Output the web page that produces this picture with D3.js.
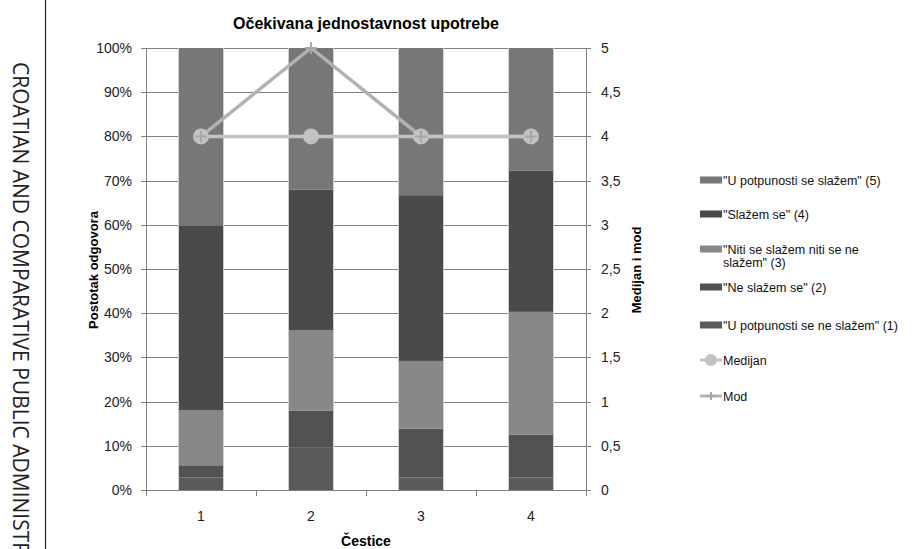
<!DOCTYPE html>
<html>
<head>
<meta charset="utf-8">
<script src="https://cdn.jsdelivr.net/npm/d3@7"></script>
<style>
  body { margin: 0; background: #fff; }
  svg text { font-family: "Liberation Sans Narrow", "Arial Narrow", "Liberation Sans", sans-serif; }
</style>
</head>
<body>
<svg id="chart" width="920" height="549"></svg>
<script>
// Data (percent of answers per item)
const categories = ["1", "2", "3", "4"];
const seriesNames = [
  "\"U potpunosti se ne slažem\" (1)",
  "\"Ne slažem se\" (2)",
  "\"Niti se slažem niti se ne slažem\" (3)",
  "\"Slažem se\" (4)",
  "\"U potpunosti se slažem\" (5)"
];
const answer1 = [2.8, 9.7, 2.8, 2.8];
const answer2 = [2.8, 8.3, 11.1, 9.7];
const answer3 = [12.5, 18.1, 15.3, 27.8];
const answer4 = [41.7, 31.9, 37.5, 31.9];
const answer5 = [40.2, 32.0, 33.3, 27.8];
const medianValues = [4, 4, 4, 4];
const modeValues = [4, 5, 4, 4];
const leftTicks = [0, 10, 20, 30, 40, 50, 60, 70, 80, 90, 100];
const rightTicks = [0, 0.5, 1, 1.5, 2, 2.5, 3, 3.5, 4, 4.5, 5];

const seriesColors = ["#5a5a5a", "#525252", "#888888", "#4a4a4a", "#777777"];
const medianColor = "#c2c2c2";
const modeColor = "#b2b2b2";

const svg = d3.select("#chart");

// Plot area
const plotLeft = 146;
const plotRight = 586;
const plotTop = 48;
const plotBottom = 490;

const xScale = d3.scaleBand()
  .domain(categories)
  .range([plotLeft, plotRight])
  .paddingInner(0.6)
  .paddingOuter(0.3);

const yScale = d3.scaleLinear().domain([0, 100]).range([plotBottom, plotTop]);
const y2Scale = d3.scaleLinear().domain([0, 5]).range([plotBottom, plotTop]);

// Journal side text
svg.append("line")
  .attr("x1", 45.5).attr("x2", 45.5)
  .attr("y1", 0).attr("y2", 549)
  .style("stroke", "#222").style("stroke-width", 1.2);

svg.append("text")
  .attr("transform", "translate(13,62) rotate(90)")
  .style("font-family", "'Open Sans', sans-serif")
  .style("font-size", "21px")
  .style("fill", "#222")
  .text("CROATIAN AND COMPARATIVE PUBLIC ADMINISTRATION");

// Gridlines
svg.append("g")
  .selectAll("line")
  .data(leftTicks)
  .join("line")
  .attr("x1", plotLeft - 5).attr("x2", plotRight + 5)
  .attr("y1", (d) => Math.round(yScale(d)) + 0.5)
  .attr("y2", (d) => Math.round(yScale(d)) + 0.5)
  .style("stroke", "#808080").style("stroke-width", 1);

// Axes lines
svg.append("line")
  .attr("x1", plotLeft + 0.5).attr("x2", plotLeft + 0.5)
  .attr("y1", plotTop).attr("y2", plotBottom)
  .style("stroke", "#808080");
svg.append("line")
  .attr("x1", plotRight + 0.5).attr("x2", plotRight + 0.5)
  .attr("y1", plotTop).attr("y2", plotBottom)
  .style("stroke", "#808080");

// X tick marks between categories
const xBoundaries = categories.map((c) => xScale(c) - xScale.step() * 0.3).concat([plotRight]);
svg.append("g")
  .selectAll("line")
  .data(xBoundaries)
  .join("line")
  .attr("x1", (d) => Math.round(d) + 0.5).attr("x2", (d) => Math.round(d) + 0.5)
  .attr("y1", plotBottom).attr("y2", plotBottom + 6)
  .style("stroke", "#808080");

// Stacked bars
const table = categories.map((c, i) => ({
  cat: c,
  a1: answer1[i], a2: answer2[i], a3: answer3[i], a4: answer4[i], a5: answer5[i]
}));
const stack = d3.stack().keys(["a1", "a2", "a3", "a4", "a5"]);
const stacked = stack(table);

svg.append("g")
  .selectAll("g")
  .data(stacked)
  .join("g")
  .style("fill", (d, i) => seriesColors[i])
  .selectAll("rect")
  .data((d) => d)
  .join("rect")
  .attr("x", (d) => xScale(d.data.cat))
  .attr("width", xScale.bandwidth())
  .attr("y", (d) => yScale(d[1]))
  .attr("height", (d) => yScale(d[0]) - yScale(d[1]));

// bar side edges
svg.append("g")
  .selectAll("rect")
  .data(categories)
  .join("rect")
  .attr("x", (d) => xScale(d) - 0.5)
  .attr("width", xScale.bandwidth() + 1)
  .attr("y", plotTop)
  .attr("height", plotBottom - plotTop)
  .style("fill", "none")
  .style("stroke", "#cfcfcf")
  .style("stroke-width", 1)
  .style("stroke-dasharray", `0 ${xScale.bandwidth() + 1} ${plotBottom - plotTop} ${xScale.bandwidth() + 1} ${plotBottom - plotTop}`);

// Lines
const cx = (i) => xScale(categories[i]) + xScale.bandwidth() / 2;
const valueLine = d3.line().x((d, i) => cx(i)).y((d) => y2Scale(d));

svg.append("path")
  .datum(modeValues)
  .attr("d", valueLine)
  .style("fill", "none").style("stroke", modeColor).style("stroke-width", 3.5);

svg.append("path")
  .datum(medianValues)
  .attr("d", valueLine)
  .style("fill", "none").style("stroke", medianColor).style("stroke-width", 3.5);

svg.append("g")
  .selectAll("circle")
  .data(medianValues)
  .join("circle")
  .attr("cx", (d, i) => cx(i))
  .attr("cy", (d) => y2Scale(d))
  .attr("r", 8)
  .style("fill", medianColor);

const plusPath = "M-6,0H6M0,-6V6";
svg.append("g")
  .selectAll("path")
  .data(modeValues)
  .join("path")
  .attr("transform", (d, i) => `translate(${cx(i)},${y2Scale(d)})`)
  .attr("d", plusPath)
  .style("stroke", "#a8a8a8").style("stroke-width", 2);

// Left tick labels
svg.append("g")
  .selectAll("text")
  .data(leftTicks)
  .join("text")
  .attr("x", 132)
  .attr("y", (d) => yScale(d) + 5)
  .attr("text-anchor", "end")
  .style("font-size", "14px")
  .style("fill", "#222")
  .text((d) => d + "%");

// Right tick labels
const commaFormat = (d) => String(d).replace(".", ",");
svg.append("g")
  .selectAll("text")
  .data(rightTicks)
  .join("text")
  .attr("x", 601)
  .attr("y", (d) => y2Scale(d) + 5)
  .style("font-size", "14px")
  .style("fill", "#222")
  .text(commaFormat);

// X labels
svg.append("g")
  .selectAll("text")
  .data(categories)
  .join("text")
  .attr("x", (d) => xScale(d) + xScale.bandwidth() / 2)
  .attr("y", 521)
  .attr("text-anchor", "middle")
  .style("font-size", "14px")
  .style("fill", "#222")
  .text((d) => d);

// Titles
svg.append("text")
  .attr("x", 366).attr("y", 29)
  .attr("text-anchor", "middle")
  .style("font-size", "16px").style("font-weight", "bold")
  .text("Očekivana jednostavnost upotrebe");

svg.append("text")
  .attr("x", 366).attr("y", 546)
  .attr("text-anchor", "middle")
  .style("font-size", "14px").style("font-weight", "bold")
  .text("Čestice");

svg.append("text")
  .attr("transform", "translate(98,270) rotate(-90)")
  .attr("text-anchor", "middle")
  .style("font-size", "13px").style("font-weight", "bold")
  .text("Postotak odgovora");

svg.append("text")
  .attr("transform", "translate(641,270) rotate(-90)")
  .attr("text-anchor", "middle")
  .style("font-size", "13px").style("font-weight", "bold")
  .text("Medijan i mod");

// Legend
const legendItems = [
  { type: "bar", color: seriesColors[4], lines: [seriesNames[4]], y: 180 },
  { type: "bar", color: seriesColors[3], lines: [seriesNames[3]], y: 214 },
  { type: "bar", color: seriesColors[2], lines: ["\"Niti se slažem niti se ne", "slažem\" (3)"], y: 249 },
  { type: "bar", color: seriesColors[1], lines: [seriesNames[1]], y: 287 },
  { type: "bar", color: seriesColors[0], lines: [seriesNames[0]], y: 325 },
  { type: "median", color: medianColor, lines: ["Medijan"], y: 360 },
  { type: "mode", color: modeColor, lines: ["Mod"], y: 396 }
];

const legend = svg.append("g").attr("id", "legend");
legendItems.forEach((item) => {
  const g = legend.append("g").attr("transform", `translate(700,${item.y})`);
  if (item.type === "bar") {
    g.append("rect").attr("x", 0).attr("y", -3.5).attr("width", 22).attr("height", 7)
      .style("fill", item.color);
  } else {
    g.append("line").attr("x1", 0).attr("x2", 22).attr("y1", 0).attr("y2", 0)
      .style("stroke", item.color).style("stroke-width", 3);
    if (item.type === "median") {
      g.append("circle").attr("cx", 11).attr("cy", 0).attr("r", 6).style("fill", item.color);
    } else {
      g.append("path").attr("transform", "translate(11,0)").attr("d", "M-4,0H4M0,-4V4")
        .style("stroke", "#a8a8a8").style("stroke-width", 2);
    }
  }
  item.lines.forEach((t, j) => {
    g.append("text")
      .attr("x", 23).attr("y", 4.5 + j * 13)
      .style("font-size", "12.5px")
      .style("fill", "#111")
      .text(t);
  });
});
</script>
</body>
</html>
